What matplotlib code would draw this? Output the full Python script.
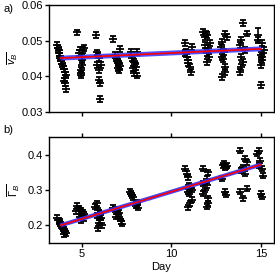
import matplotlib
matplotlib.use("Agg")
import matplotlib.pyplot as plt
import numpy as np

plt.rcParams['font.family'] = ['Liberation Sans', 'DejaVu Sans']
plt.rcParams['mathtext.fontset'] = 'custom'
plt.rcParams['mathtext.rm'] = 'Liberation Sans'
plt.rcParams['mathtext.it'] = 'Liberation Sans:italic'

# ---- panel a data: (day, mean v_B) ----
a_days = [3.62, 3.68, 3.72, 3.70, 3.78, 3.80, 3.85, 3.90, 3.95, 4.00, 4.05, 4.10, 4.08, 4.02, 4.06, 4.12,
          4.74, 4.89, 4.85, 5.06, 5.10, 4.98, 5.02, 5.00, 4.95, 4.92, 4.97,
          5.80, 5.84, 5.88, 5.95, 5.84, 6.05, 5.98, 5.95, 6.00, 6.02,
          6.75, 7.15, 6.85, 6.92, 6.98, 7.02, 7.08, 7.12, 7.00, 7.05,
          7.75, 8.05, 7.80, 7.90, 7.95, 8.00, 7.85, 7.92, 8.08,
          10.75, 11.15, 10.78, 10.85, 10.90, 10.95, 11.05, 11.10, 10.82,
          11.75, 11.95, 11.85, 12.00, 11.90, 12.15, 12.05, 11.98, 12.08, 11.98,
          13.00, 13.10, 12.82, 12.78, 12.95, 12.85, 12.90, 13.00, 12.98, 12.85,
          14.00, 14.20, 13.90, 13.85, 14.10, 13.90, 13.98, 13.90, 13.82,
          14.85, 15.05, 15.15, 14.98, 15.05, 14.98, 15.05, 15.02]
a_vals = [0.0488, 0.0480, 0.0473, 0.0465, 0.0457, 0.0450, 0.0442, 0.0435, 0.0428, 0.0420, 0.0412, 0.0405, 0.0396, 0.0388, 0.0380, 0.0365,
          0.0523, 0.0474, 0.0465, 0.0474, 0.0479, 0.0455, 0.0446, 0.0432, 0.0418, 0.0404, 0.0408,
          0.0516, 0.0467, 0.0458, 0.0450, 0.0432, 0.0432, 0.0418, 0.0390, 0.0380, 0.0336,
          0.0504, 0.0476, 0.0460, 0.0451, 0.0446, 0.0440, 0.0434, 0.0428, 0.0422, 0.0418,
          0.0469, 0.0469, 0.0450, 0.0441, 0.0436, 0.0427, 0.0422, 0.0408, 0.0402,
          0.0493, 0.0483, 0.0465, 0.0455, 0.0446, 0.0437, 0.0427, 0.0413, 0.0470,
          0.0525, 0.0520, 0.0511, 0.0516, 0.0488, 0.0493, 0.0479, 0.0465, 0.0455, 0.0441,
          0.0520, 0.0511, 0.0497, 0.0483, 0.0469, 0.0455, 0.0448, 0.0427, 0.0413, 0.0399,
          0.0549, 0.0520, 0.0501, 0.0488, 0.0474, 0.0455, 0.0441, 0.0427, 0.0413,
          0.0502, 0.0493, 0.0474, 0.0460, 0.0446, 0.0432, 0.0455, 0.0376]
a_err = 0.0008
a_big_day = [14.85]
a_big_val = [0.0516]
a_big_err = [0.0019]

# ---- panel b data: (day, mean Gamma_B) ----
b_days = [3.62, 3.70, 3.75, 3.80, 3.85, 3.90, 3.95, 4.00, 4.05, 4.10, 3.98,
          4.65, 4.75, 4.85, 4.95, 5.05, 5.10, 5.00, 4.90, 5.12, 4.95,
          5.85, 5.75, 5.90, 5.95, 6.00, 5.85, 6.05, 6.00, 5.95, 6.10, 5.92,
          6.75, 6.85, 6.95, 7.05, 7.00, 6.90, 7.15, 7.20, 7.25,
          7.70, 7.75, 7.80, 7.85, 8.05, 8.10, 8.00, 8.15,
          10.75, 10.85, 10.92, 11.00, 11.05, 11.13, 10.92, 11.00, 11.13, 11.05, 10.95,
          11.76, 12.05, 11.97, 11.76, 11.97, 11.90, 11.76, 12.05, 12.02, 11.97,
          12.95, 13.08, 12.99, 12.90, 13.05, 12.82, 12.99, 13.03,
          13.83, 14.10, 14.20, 14.00, 13.90, 14.10, 14.20, 13.83, 14.00,
          14.90, 14.76, 14.94, 14.90, 15.05, 15.13, 15.00, 15.05]
b_vals = [0.222, 0.215, 0.210, 0.205, 0.200, 0.197, 0.192, 0.188, 0.183, 0.178, 0.175,
          0.240, 0.255, 0.248, 0.242, 0.237, 0.232, 0.228, 0.224, 0.220, 0.214,
          0.262, 0.252, 0.243, 0.236, 0.232, 0.228, 0.222, 0.215, 0.207, 0.200, 0.192,
          0.250, 0.245, 0.240, 0.236, 0.232, 0.225, 0.218, 0.212, 0.205,
          0.295, 0.290, 0.285, 0.280, 0.265, 0.260, 0.255, 0.250,
          0.360, 0.346, 0.336, 0.313, 0.306, 0.300, 0.295, 0.290, 0.272, 0.263, 0.251,
          0.360, 0.350, 0.332, 0.318, 0.313, 0.300, 0.290, 0.276, 0.263, 0.253,
          0.374, 0.369, 0.364, 0.370, 0.366, 0.332, 0.295, 0.286,
          0.411, 0.388, 0.379, 0.365, 0.355, 0.346, 0.304, 0.295, 0.276,
          0.411, 0.402, 0.383, 0.369, 0.360, 0.341, 0.290, 0.281]
b_err = 0.007

# ---- linear fits ----
fit_days = [3.8, 15.0]
fit_a = [0.0451, 0.0477]
fit_b = [0.200, 0.372]

W, H = 275, 274
fig = plt.figure(figsize=(W / 100, H / 100), dpi=100)
axa = fig.add_axes([49 / W, 1 - 112 / H, 224.5 / W, 107 / H])
axb = fig.add_axes([49 / W, 1 - 243 / H, 224.5 / W, 106 / H])

ekw = dict(fmt='_', color='black', ms=6, mew=1.3, elinewidth=1.2, capsize=2.3, capthick=1.2, zorder=3)

axa.plot(fit_days, fit_a, color='#3030ff', lw=3.5, alpha=0.85, zorder=4, solid_capstyle='butt')
axa.plot(fit_days, fit_a, color='red', lw=1.2, zorder=5)
axa.errorbar(a_days, a_vals, yerr=a_err, **ekw)
axa.errorbar(a_big_day, a_big_val, yerr=a_big_err, **ekw)

axb.plot(fit_days, fit_b, color='#3030ff', lw=3.0, alpha=0.9, zorder=4, solid_capstyle='butt')
axb.plot(fit_days, fit_b, color='red', lw=1.2, zorder=5)
axb.errorbar(b_days, b_vals, yerr=b_err, **ekw)

for ax in (axa, axb):
    ax.set_xlim(3.16, 15.7)
    ax.set_xticks([5, 10, 15])
    for s in ax.spines.values():
        s.set_linewidth(1.0)
    ax.tick_params(labelsize=8, length=3, width=1.0, direction='out', pad=1.5)

axa.set_ylim(0.03, 0.06)
axa.set_yticks([0.03, 0.04, 0.05, 0.06])
axa.set_yticklabels(['0.03', '0.04', '0.05', '0.06'])
axa.tick_params(axis='x', labelbottom=False)
axa.set_ylabel(r'$\overline{v_B}$', fontsize=8, labelpad=1)

axb.set_ylim(0.15, 0.45)
axb.set_yticks([0.2, 0.3, 0.4])
axb.set_yticklabels(['0.2', '0.3', '0.4'])
axb.tick_params(axis='x', top=True, which='both')
axb.set_ylabel(r'$\overline{\Gamma_B}$', fontsize=8, labelpad=4)
axb.set_xlabel('Day', fontsize=8, labelpad=2)

fig.text(3 / W, 1 - 12 / H, 'a)', fontsize=8)
fig.text(3 / W, 1 - 133 / H, 'b)', fontsize=8)

fig.savefig('out.png', dpi=100)
